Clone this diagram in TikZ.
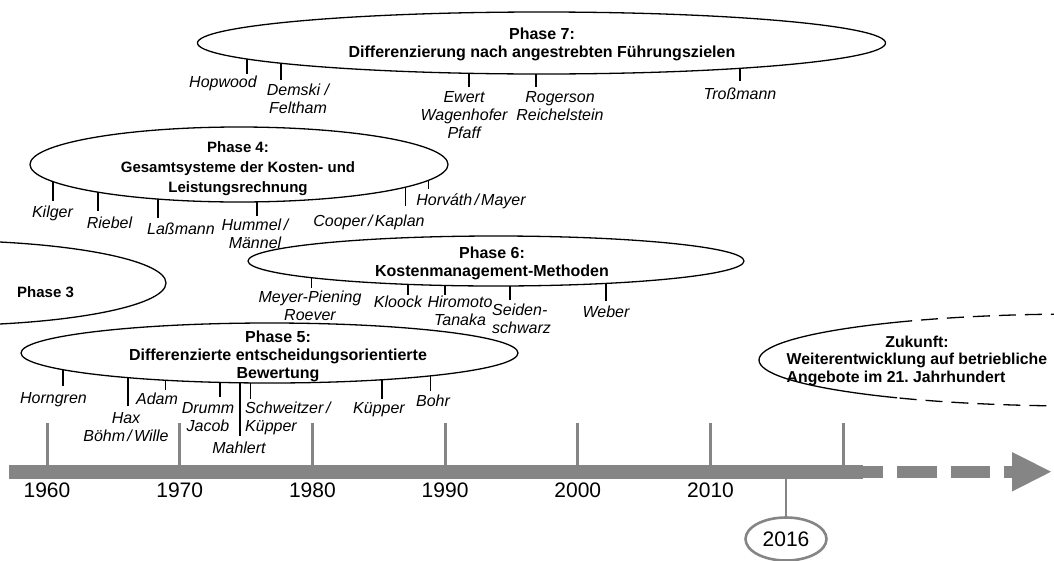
\documentclass[tikz,border=0pt]{standalone}
\usepackage{fontspec}
\setmainfont{Liberation Sans}
\frenchspacing
\usetikzlibrary{shapes.geometric}
\definecolor{barc}{RGB}{133,133,133}
\newcommand\nmfont{\fontsize{16}{18}\selectfont\itshape}
\newcommand\phfont[2]{\fontsize{#1}{#2}\selectfont\bfseries}
\newcommand\yrfont{\fontsize{21}{24}\selectfont}
\newcommand\slsh{\hspace{0.14em}/\hspace{0.14em}}
\newcommand\etick[4][tkb]{%
  \coordinate (#2a) at ({#3},{\ecy+\ery*sqrt(1-((#3-\ecx)/\erx)^2)});
  \coordinate (#2b) at (#3,#4);
  \draw[#1] (#2a) -- (#2b);}
\begin{document}
\begin{tikzpicture}[x=1pt,y=-1pt,
  ell/.style={draw=black,line width=1.3pt},
  tkb/.style={draw=black,line width=2pt},
  tkm/.style={draw=black,line width=1.5pt},
  tkt/.style={draw=black,line width=1pt},
  gtk/.style={draw=barc,line width=3pt},
  nm/.style={font=\nmfont,inner sep=0pt,align=center,anchor=north},
  nml/.style={font=\nmfont,inner sep=0pt,align=left,anchor=north west},
  ph/.style={inner sep=0pt,align=center},
  yr/.style={font=\yrfont,inner sep=0pt,anchor=base}]
\useasboundingbox (0,0) rectangle (1054,560);
\clip (0,0) rectangle (1054,560);

% ---------- Phase 7
\draw[ell] (541.5,43) ellipse [x radius=344, y radius=31];
\node[ph,font={\phfont{16}{18}}] (p7) at (542,44.5) {Phase 7:\\Differenzierung nach angestrebten Führungszielen};
\def\ecx{541.5}\def\ecy{43}\def\erx{344}\def\ery{31}
\etick{t71}{247}{74}
\etick{t72}{281}{80}
\etick{t73}{469}{87}
\etick{t74}{536}{87}
\etick[tkm]{t75}{740}{81}
\node[nm] (hopwood) at (223,76) {Hopwood};
\node[nm] (demski) at (298,84) {Demski /\\Feltham};
\node[nm] (ewert) at (464,91) {Ewert\\Wagenhofer\\Pfaff};
\node[nm] (rogerson) at (560,91) {Rogerson\\Reichelstein};
\node[nm] (trossmann) at (740,88) {Troßmann};

% ---------- Phase 4
\draw[ell] (239,164.5) ellipse [x radius=209, y radius=37.5];
\node[ph,font={\phfont{15}{20}}] (p4) at (238,168.5) {Phase 4:\\Gesamtsysteme der Kosten- und\\Leistungsrechnung};
\def\ecx{239}\def\ecy{164.5}\def\erx{209}\def\ery{37.5}
\etick{t41}{53.4}{201}
\etick{t42}{98}{211}
\etick{t43}{158.4}{218}
\etick{t44}{256.5}{216}
\etick[tkt]{t45}{405.6}{206}
\etick[tkt]{t46}{428.7}{189}
\node[nm] (kilger) at (52.5,206) {Kilger};
\node[nm] (riebel) at (109.5,217) {Riebel};
\node[nm] (lassmann) at (181,223) {Laßmann};
\node[nm] (hummel) at (255,219) {Hummel\,/\\Männel};
\node[nm] (cooper) at (369,215) {Cooper\slsh Kaplan};
\node[nm] (horvath) at (471,194) {Horváth\slsh Mayer};

% ---------- Phase 3
\draw[ell] (-60,283) ellipse [x radius=226, y radius=42.5];
\node[ph,font={\phfont{15}{18}},anchor=west] (p3) at (17,292) {Phase 3};

% ---------- Phase 6
\draw[ell] (496,261) ellipse [x radius=248, y radius=25];
\node[ph,font={\phfont{16}{18}}] (p6) at (492,263.5) {Phase 6:\\Kostenmanagement-Methoden};
\def\ecx{496}\def\ecy{261}\def\erx{248}\def\ery{25}
\etick[tkt]{t61}{311}{288}
\etick{t62}{408}{295}
\etick{t63}{445}{295}
\etick{t64}{510}{300}
\etick{t65}{606}{301}
\node[nm] (meyer) at (310,291) {Meyer-Piening\\Roever};
\node[nm] (kloock) at (398,296) {Kloock};
\node[nm] (hiromoto) at (460,296) {Hiromoto\\Tanaka};
\node[nml] (seiden) at (492,304) {Seiden-\\schwarz};
\node[nm] (weber) at (606,306) {Weber};

% ---------- Phase 5
\draw[ell] (269.5,353) ellipse [x radius=248.5, y radius=30];
\node[ph,font={\phfont{16}{18}}] (p5) at (278,356.5) {Phase 5:\\Differenzierte entscheidungsorientierte\\Bewertung};
\def\ecx{269.5}\def\ecy{353}\def\erx{248.5}\def\ery{30}
\etick{t51}{63}{386}
\etick{t52}{127.5}{406}
\etick[tkt]{t53}{165}{390}
\etick[tkm]{t54}{220}{397}
\etick{t55}{240}{436}
\etick[tkt]{t56}{250}{399}
\etick[tkm]{t57}{382}{399}
\etick[tkt]{t58}{430}{391}
\node[nm] (horngren) at (53.5,392) {Horngren};
\node[nm] (hax) at (126,412) {Hax\\Böhm\slsh Wille};
\node[nm] (adam) at (157,393) {Adam};
\node[nm] (drumm) at (208,402) {Drumm\\Jacob};
\node[nm] (mahlert) at (239,442) {Mahlert};
\node[nml] (schweitzer) at (245,402) {Schweitzer\,/\\Küpper};
\node[nm] (kuepper) at (379,402) {Küpper};
\node[nm] (bohr) at (433,395) {Bohr};

% ---------- Zukunft
\begin{scope}
  \clip (700,0) rectangle (897,560);
  \draw[ell] (1080,360) ellipse [x radius=321, y radius=46];
\end{scope}
\begin{scope}
  \clip (897,0) rectangle (1054,560);
  \draw[ell,dash pattern=on 17pt off 9pt] (1080,360) ellipse [x radius=321, y radius=46];
\end{scope}
\node[ph,font={\phfont{15.8}{17.5}},anchor=west] (zuk) at (786.5,360.5)
  {Zukunft:\\Weiterentwicklung auf betriebliche\\\rlap{Angebote im 21. Jahrhundert}\phantom{Weiterentwicklung auf betriebliche}};

% ---------- Timeline
\fill[barc] (9,465) rectangle (863,478.5);
\fill[barc] (863,465.5) rectangle (883,477.8);
\fill[barc] (897,465.5) rectangle (937,477.8);
\fill[barc] (951,465.5) rectangle (990,477.8);
\fill[barc] (1004,465.5) rectangle (1013,477.8);
\fill[barc] (1012,452) -- (1051,471.7) -- (1012,491.5) -- cycle;
\foreach \i in {0,...,6}{
  \coordinate (g\i a) at ({47+132.7*\i},423);
  \coordinate (g\i b) at ({47+132.7*\i},465.5);
  \draw[gtk] (g\i a) -- (g\i b);
}
\foreach \i/\yy in {0/1960,1/1970,2/1980,3/1990,4/2000,5/2010}{
  \node[yr] (yr\i) at ({47+132.7*\i},497) {\yy};
}
\coordinate (b16) at (786,478);
\node[ellipse,draw=barc,line width=2.6pt,minimum width=81,minimum height=43,inner sep=0pt,font=\yrfont] (y16) at (786,539) {2016};
\draw[gtk,line width=2.6pt] (b16) -- (y16.north);
\end{tikzpicture}
\end{document}
